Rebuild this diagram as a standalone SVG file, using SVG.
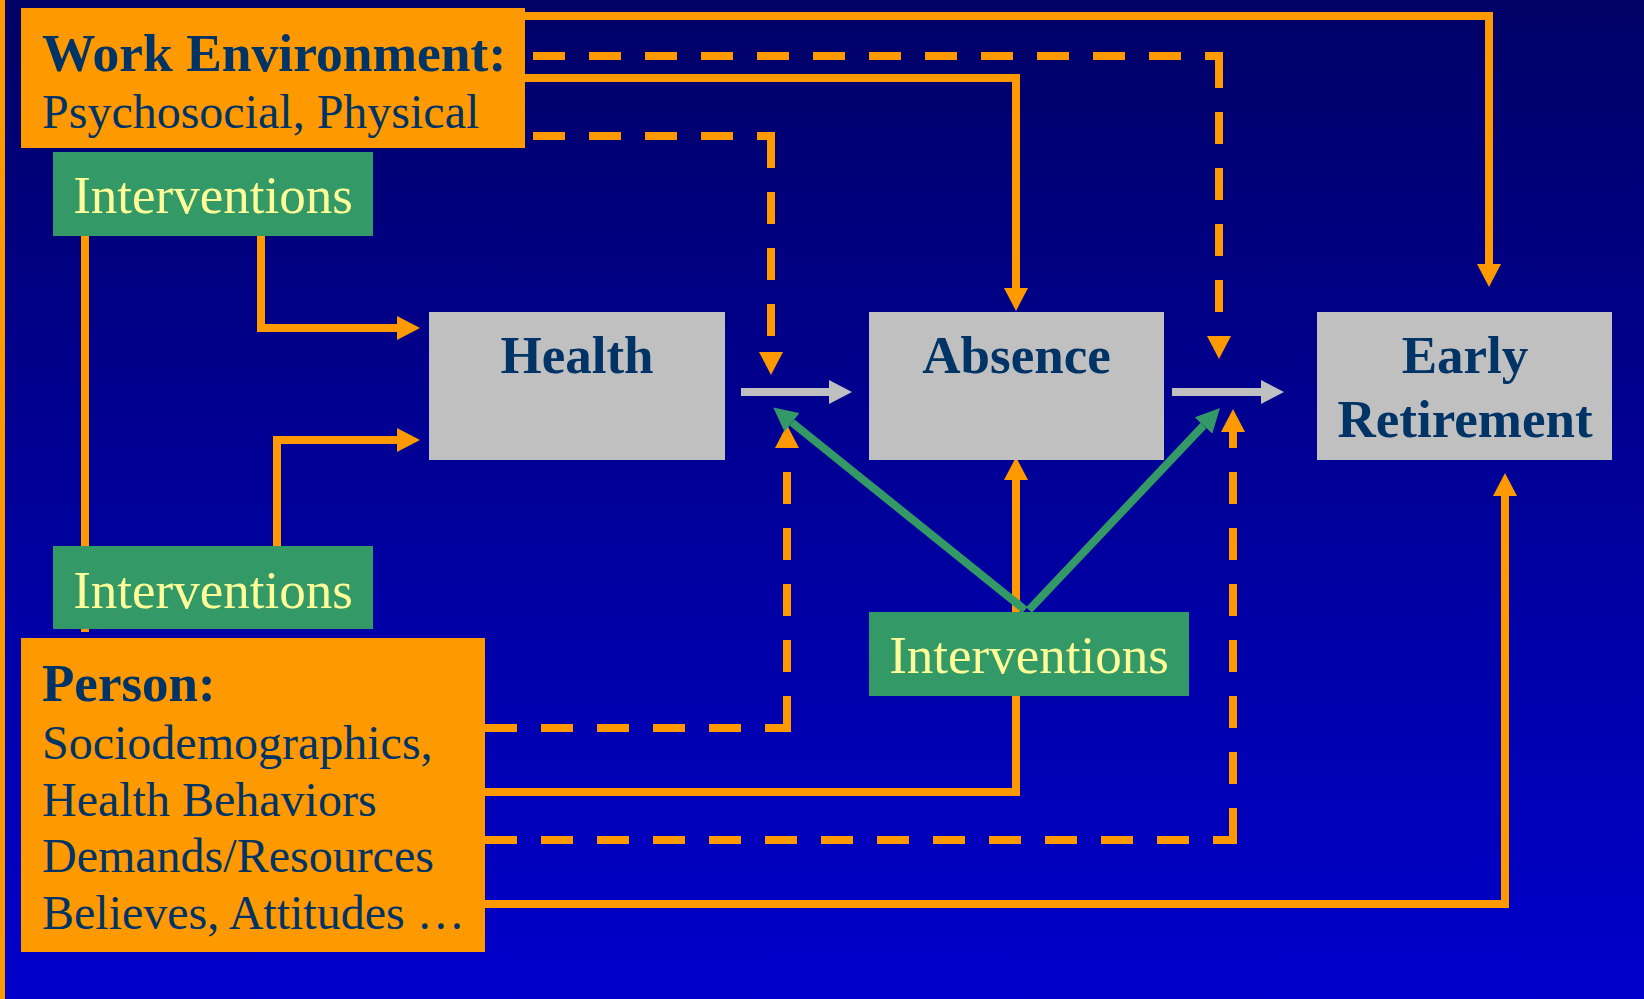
<svg xmlns="http://www.w3.org/2000/svg" width="1644" height="999" viewBox="0 0 1644 999">
  <defs>
    <linearGradient id="bg" x1="0" y1="0" x2="0" y2="1">
      <stop offset="0" stop-color="#000066"/>
      <stop offset="1" stop-color="#0000CC"/>
    </linearGradient>
    <marker id="ao" markerUnits="userSpaceOnUse" viewBox="0 0 23 24" refX="0" refY="12" markerWidth="23" markerHeight="24" orient="auto">
      <path d="M0,0 L23,12 L0,24 Z" fill="#FF9900"/>
    </marker>
    <marker id="ag" markerUnits="userSpaceOnUse" viewBox="0 0 23 24" refX="0" refY="12" markerWidth="23" markerHeight="24" orient="auto">
      <path d="M0,0 L23,12 L0,24 Z" fill="#C0C0C0"/>
    </marker>
    <marker id="agr" markerUnits="userSpaceOnUse" viewBox="0 0 24 24" refX="0" refY="12" markerWidth="24" markerHeight="24" orient="auto">
      <path d="M0,0 L24,12 L0,24 Z" fill="#339966"/>
    </marker>
  </defs>
  <style>
    .o { fill: none; stroke: #FF9900; stroke-width: 8; stroke-linecap: butt; stroke-linejoin: miter; }
    .d { stroke-dasharray: 32 24; }
    .gray { fill: none; stroke: #C0C0C0; stroke-width: 8; }
    .grn { fill: none; stroke: #339966; stroke-width: 8; }
    .box { fill: #C0C0C0; }
    .obox { fill: #FF9900; }
    .ibox { fill: #339966; }
    .t { font-family: "Liberation Serif", "Times New Roman", serif; fill: #003366; }
    .b { font-weight: bold; font-size: 53px; }
    .bw { font-size: 53.5px; }
    .r { font-size: 48px; }
    .it { font-family: "Liberation Serif", "Times New Roman", serif; fill: #FFFF99; font-size: 53px; text-anchor: middle; }
    .c { text-anchor: middle; }
  </style>
  <rect x="0" y="0" width="1644" height="999" fill="url(#bg)"/>
  <rect x="0" y="0" width="5" height="999" fill="#FF9900"/>

  <g id="connectors">
    <path class="o" d="M525,16 H1489 V264" marker-end="url(#ao)"/>
    <path class="o d" d="M533,56 H1223"/>
    <path class="o d" d="M1219,56 V336" marker-end="url(#ao)"/>
    <path class="o" d="M525,78 H1016 V288" marker-end="url(#ao)"/>
    <path class="o d" d="M533,136 H775"/>
    <path class="o d" d="M771,136 V352" marker-end="url(#ao)"/>
    <path class="o" d="M261,236 V328 H397" marker-end="url(#ao)"/>
    <path class="o" d="M277,546 V440 H397" marker-end="url(#ao)"/>
    <path class="o" d="M85,236 V632"/>
    <path class="o d" d="M485,728 H791"/>
    <path class="o d" d="M787,728 V448" marker-end="url(#ao)"/>
    <path class="o" d="M485,792 H1016 V480" marker-end="url(#ao)"/>
    <path class="o d" d="M485,840 H1237"/>
    <path class="o d" d="M1233,840 V432" marker-end="url(#ao)"/>
    <path class="o" d="M485,904 H1505 V496" marker-end="url(#ao)"/>
    <path class="gray" d="M741,392 H829" marker-end="url(#ag)"/>
    <path class="gray" d="M1172,392 H1261" marker-end="url(#ag)"/>
    <path class="grn" d="M1025,610 L792,422.5" marker-end="url(#agr)"/>
    <path class="grn" d="M1029,610 L1203.5,425.5" marker-end="url(#agr)"/>
  </g>

  <g id="work-environment">
    <rect class="obox" x="21" y="8" width="504" height="140"/>
    <text class="t b bw" x="42" y="71">Work Environment:</text>
    <text class="t r" x="42" y="128">Psychosocial, Physical</text>
  </g>

  <g id="interventions-1">
    <rect class="ibox" x="53" y="152" width="320" height="84"/>
    <text class="it" x="213" y="213">Interventions</text>
  </g>

  <g id="interventions-2">
    <rect class="ibox" x="53" y="546" width="320" height="83"/>
    <text class="it" x="213" y="608">Interventions</text>
  </g>

  <g id="person">
    <rect class="obox" x="21" y="638" width="464" height="314"/>
    <text class="t b" x="42" y="701">Person:</text>
    <text class="t r" x="42" y="759">Sociodemographics,</text>
    <text class="t r" x="42" y="816">Health Behaviors</text>
    <text class="t r" x="42" y="872">Demands/Resources</text>
    <text class="t r" x="42" y="929">Believes, Attitudes …</text>
  </g>

  <g id="health">
    <rect class="box" x="429" y="312" width="296" height="148"/>
    <text class="t b c" x="577" y="373">Health</text>
  </g>

  <g id="absence">
    <rect class="box" x="869" y="312" width="295" height="148"/>
    <text class="t b c" x="1016.5" y="373">Absence</text>
  </g>

  <g id="early-retirement">
    <rect class="box" x="1317" y="312" width="295" height="148"/>
    <text class="t b c" x="1465" y="373">Early</text>
    <text class="t b c" x="1465" y="437">Retirement</text>
  </g>

  <g id="interventions-3">
    <rect class="ibox" x="869" y="612" width="320" height="84"/>
    <text class="it" x="1029" y="673">Interventions</text>
  </g>
</svg>
